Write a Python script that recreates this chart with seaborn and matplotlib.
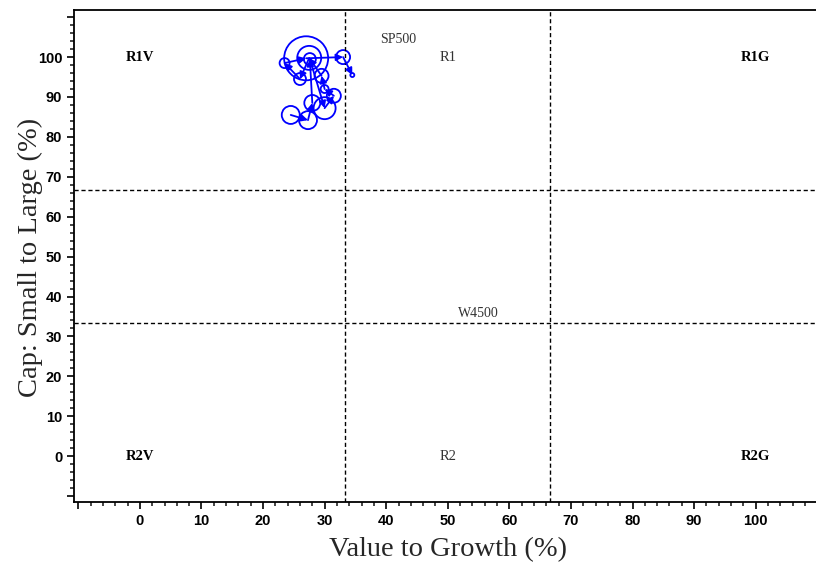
#!/usr/bin/env python3
import numpy as np
import pandas as pd
import matplotlib
matplotlib.use("Agg")
import matplotlib.pyplot as plt
from matplotlib.ticker import MultipleLocator, FuncFormatter
import seaborn as sns

# style path of the fund, in (value-growth %, small-large cap %) space
style_x = [24.5, 27.3, 28.0, 27.6, 30.0, 31.5, 30.0, 29.5, 27.5, 26.0, 23.5, 27.0, 33.0, 34.5]
style_y = [85.5, 84.2, 88.5, 99.5, 87.2, 90.3, 92.0, 95.3, 99.8, 94.5, 98.5, 99.7, 100.0, 95.5]
circle_radius_px = [9, 9, 8, 6, 11, 7, 4, 7, 12, 6, 5, 22, 7, 2]

# region labels
region_names = ["R1V", "R1", "R1G", "R2V", "R2", "R2G"]
region_x = [0, 50, 100, 0, 50, 100]
region_y = [100, 100, 100, 0, 0, 0]
region_bold = [True, False, True, True, False, True]

index_names = ["SP500", "W4500"]
index_x = [42, 55]
index_y = [104.5, 35.8]

cut_points = [33.33, 66.67]

sns.set_theme(style="ticks")
plt.rcParams["font.family"] = ["Liberation Sans", "DejaVu Sans"]

fig = plt.figure(figsize=(8.16, 5.63), dpi=100)
ax = fig.add_axes([74 / 816, 1 - 502 / 563, 1 - 74 / 816, 492 / 563])

# circles sized by weight (radius in px -> scatter area in pt^2)
df = pd.DataFrame({"x": style_x, "y": style_y,
                   "s": [(1.44 * r) ** 2 for r in circle_radius_px]})
sns.scatterplot(data=df, x="x", y="y", s=df["s"], facecolor="none",
                edgecolor="blue", linewidth=1.3, ax=ax, legend=False)

# arrows between consecutive periods
for i in range(len(style_x) - 1):
    ax.annotate("", xy=(style_x[i + 1], style_y[i + 1]),
                xytext=(style_x[i], style_y[i]),
                arrowprops=dict(arrowstyle="-|>", color="blue", lw=1.3,
                                mutation_scale=10, shrinkA=0, shrinkB=0))

for c in cut_points:
    ax.axvline(c, color="black", linestyle=(0, (3, 2)), lw=1)
    ax.axhline(c, color="black", linestyle=(0, (3, 2)), lw=1)

for name, x, y, b in zip(region_names, region_x, region_y, region_bold):
    ax.text(x, y, name, ha="center", va="center", fontsize=10.5,
            family="Liberation Serif", fontweight="bold" if b else "normal",
            color="black" if b else "#333333")

for name, x, y in zip(index_names, index_x, index_y):
    ax.text(x, y, name, ha="center", va="center", fontsize=10,
            family="Liberation Serif", color="#333333")

ax.set_xlim(-10.7, 109.8)
ax.set_ylim(-11.5, 111.8)
ax.xaxis.set_major_locator(MultipleLocator(10))
ax.xaxis.set_minor_locator(MultipleLocator(2))
ax.yaxis.set_major_locator(MultipleLocator(10))
ax.yaxis.set_minor_locator(MultipleLocator(2))
fmt = FuncFormatter(lambda v, p: f"{v:.0f}" if 0 <= v <= 100 else "")
ax.xaxis.set_major_formatter(fmt)
ax.yaxis.set_major_formatter(fmt)
ax.tick_params(which="major", length=5, width=1.2, labelsize=10.5, colors="black")
ax.tick_params(which="minor", length=3, width=1.2)
for lab in ax.get_xticklabels() + ax.get_yticklabels():
    lab.set_fontweight("bold")

ax.spines["right"].set_visible(False)
for s in ["left", "bottom", "top"]:
    ax.spines[s].set_color("black")
    ax.spines[s].set_linewidth(1.3)
ax.set_facecolor("white")

ax.set_xlabel("Value to Growth (%)", family="Liberation Serif", fontsize=20.5)
ax.set_ylabel("Cap: Small to Large (%)", family="Liberation Serif", fontsize=20.5)
ax.xaxis.set_label_coords((448 - 74) / 742, -(537 - 502) / 492)
ax.yaxis.set_label_coords(-(74 - 43) / 742, (502 - 257) / 492)

fig.savefig("out.png", dpi=100)
